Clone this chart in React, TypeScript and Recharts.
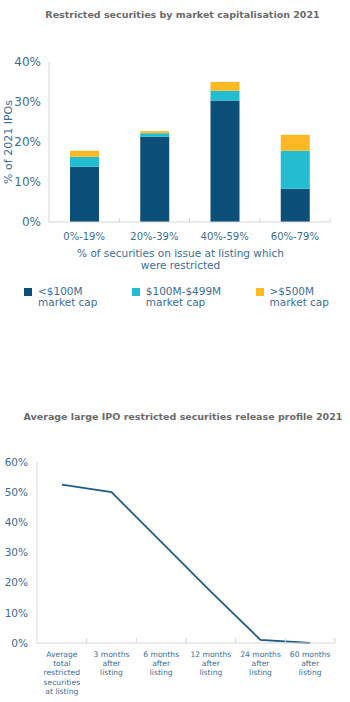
import React from 'react';
import { BarChart, Bar, XAxis, YAxis, Legend, LineChart, Line } from 'recharts';

// ---------- Data: chart 1 ----------
const capCategories = ['0%-19%', '20%-39%', '40%-59%', '60%-79%'];
const under100M = [13.8, 21.3, 30.4, 8.3];
const mid100to499M = [2.5, 0.9, 2.4, 9.5];
const over500M = [1.5, 0.5, 2.2, 4.0];
const capTicks = [0, 10, 20, 30, 40];
const seriesKeys = ['a', 'b', 'c'];
const seriesNames = ['<$100M\nmarket cap', '$100M-$499M\nmarket cap', '>$500M\nmarket cap'];

// ---------- Data: chart 2 ----------
const releaseCategories = [
  'Average total restricted securities at listing',
  '3 months after listing',
  '6 months after listing',
  '12 months after listing',
  '24 months after listing',
  '60 months after listing',
];
const releaseTickLines = [
  ['Average', 'total', 'restricted', 'securities', 'at listing'],
  ['3 months', 'after', 'listing'],
  ['6 months', 'after', 'listing'],
  ['12 months', 'after', 'listing'],
  ['24 months', 'after', 'listing'],
  ['60 months', 'after', 'listing'],
];
const releaseValues = [52.5, 50, 33.5, 17, 1, 0];
const releaseTicks = [0, 10, 20, 30, 40, 50, 60];

const capData = capCategories.map((c, i) => ({
  cat: c,
  a: under100M[i],
  b: mid100to499M[i],
  c: over500M[i],
}));
const releaseData = releaseCategories.map((c, i) => ({ cat: c, v: releaseValues[i] }));

// ---------- Styles ----------
const FONT = 'DejaVu Sans';
const AXIS_TEXT = '#3a6d94';
const AXIS_LINE = '#d6d6d6';
const TITLE = '#6a6a6a';
const COLORS = ['#0c4f78', '#22bdd0', '#fdb823'];
const LINE_COLOR = '#1f5e80';

// chart 1 layout
const C1_W = 350;
const C1_H = 320;
const C1_M = { top: 62, right: 20, left: 0, bottom: 38 };
const C1_YW = 49;
const C1_PLOT_W = C1_W - C1_M.left - C1_M.right - C1_YW;
const C1_BAND = C1_PLOT_W / capCategories.length;

// chart 2 layout
const C2_W = 350;
const C2_H = 272;
const C2_M = { top: 32, right: 15, left: 0, bottom: 4 };
const C2_YW = 37;
const C2_PLOT_W = C2_W - C2_M.left - C2_M.right - C2_YW;
const C2_PAD = C2_PLOT_W / (2 * releaseCategories.length);
const C2_STEP = 2 * C2_PAD;

const pct = (v: number) => `${v}%`;

function CapTick(props: any) {
  const { x, y, payload } = props;
  const bx = x + C1_BAND / 2;
  return (
    <g>
      <line x1={bx} x2={bx} y1={y} y2={y - 4} stroke={AXIS_LINE} />
      <text x={x} y={y + 14} dy="0.35em" textAnchor="middle" fill={AXIS_TEXT} fontSize={10} fontFamily={FONT}>
        {payload.value}
      </text>
    </g>
  );
}

function ReleaseTick(props: any) {
  const { x, y, index } = props;
  const lines = releaseTickLines[index] || [];
  const bx = x + C2_STEP / 2;
  return (
    <g>
      <line x1={bx} x2={bx} y1={y} y2={y - 5} stroke={AXIS_LINE} />
      <text textAnchor="middle" fill={AXIS_TEXT} fontSize={7.6} fontFamily={FONT}>
        {lines.map((l: string, i: number) => (
          <tspan key={i} x={x} y={y + 11 + i * 9.3} dy="0.35em">
            {l}
          </tspan>
        ))}
      </text>
    </g>
  );
}

function CapLegend(props: any) {
  const items = [...(props.payload || [])].sort(
    (p: any, q: any) => seriesKeys.indexOf(p.dataKey) - seriesKeys.indexOf(q.dataKey)
  );
  return (
    <div style={{ display: 'flex', justifyContent: 'space-between', width: '100%' }}>
      {items.map((p: any, i: number) => (
        <div key={i} style={{ display: 'flex', alignItems: 'flex-start' }}>
          <div style={{ width: 8, height: 8, background: p.color, marginTop: 1.5, marginRight: 6 }} />
          <div
            style={{
              whiteSpace: 'pre-line',
              fontFamily: FONT,
              fontSize: 10.5,
              lineHeight: '11px',
              color: AXIS_TEXT,
            }}
          >
            {p.value}
          </div>
        </div>
      ))}
    </div>
  );
}

export default function App() {
  return (
    <div
      style={{
        position: 'absolute',
        left: 0,
        top: 0,
        width: 350,
        height: 702,
        background: '#fff',
        fontFamily: FONT,
      }}
    >
      <div
        style={{
          position: 'absolute',
          top: 9,
          left: 0,
          width: 365,
          textAlign: 'center',
          fontWeight: 'bold',
          fontSize: 9.5,
          lineHeight: '12px',
          color: TITLE,
          whiteSpace: 'nowrap',
        }}
      >
        Restricted securities by market capitalisation 2021
      </div>
      <div style={{ position: 'absolute', left: 0, top: 0 }}>
        <BarChart width={C1_W} height={C1_H} data={capData} margin={C1_M} barSize={29}>
          <XAxis
            dataKey="cat"
            height={60}
            tickLine={false}
            tickSize={0}
            tickMargin={0}
            stroke={AXIS_LINE}
            tick={<CapTick />}
            interval={0}
            label={{
              content: (lp: any) => {
                const vb = lp.viewBox || {};
                const cx = vb.x + vb.width / 2 - 9;
                return (
                  <text textAnchor="middle" fill={AXIS_TEXT} fontSize={10.5} fontFamily={FONT}>
                    <tspan x={cx} y={vb.y + 31} dy="0.35em">
                      % of securities on issue at listing which
                    </tspan>
                    <tspan x={cx} y={vb.y + 43} dy="0.35em">
                      were restricted
                    </tspan>
                  </text>
                );
              },
            }}
          />
          <YAxis
            width={C1_YW}
            domain={[0, 40]}
            ticks={capTicks}
            tickFormatter={pct}
            tickLine={false}
            stroke={AXIS_LINE}
            tick={{ fill: AXIS_TEXT, fontSize: 12, fontFamily: FONT }}
            label={{
              content: (lp: any) => {
                const vb = lp.viewBox || {};
                const cy = vb.y + vb.height / 2;
                return (
                  <text
                    x={8}
                    y={cy}
                    dy="0.35em"
                    transform={`rotate(-90 8 ${cy})`}
                    textAnchor="middle"
                    fill={AXIS_TEXT}
                    fontSize={11}
                    fontFamily={FONT}
                  >
                    % of 2021 IPOs
                  </text>
                );
              },
            }}
          />
          <Legend
            layout="horizontal"
            verticalAlign="middle"
            align="center"
            content={<CapLegend />}
            wrapperStyle={{ top: 286, left: 24, width: 305, height: 24 }}
          />
          <Bar dataKey="a" name={seriesNames[0]} stackId="s" fill={COLORS[0]} isAnimationActive={false} />
          <Bar dataKey="b" name={seriesNames[1]} stackId="s" fill={COLORS[1]} isAnimationActive={false} />
          <Bar dataKey="c" name={seriesNames[2]} stackId="s" fill={COLORS[2]} isAnimationActive={false} />
        </BarChart>
      </div>

      <div
        style={{
          position: 'absolute',
          top: 411,
          left: 0,
          width: 366,
          textAlign: 'center',
          fontWeight: 'bold',
          fontSize: 9.5,
          lineHeight: '12px',
          color: TITLE,
          whiteSpace: 'nowrap',
        }}
      >
        Average large IPO restricted securities release profile 2021
      </div>
      <div style={{ position: 'absolute', left: 0, top: 430 }}>
        <LineChart width={C2_W} height={C2_H} data={releaseData} margin={C2_M}>
          <XAxis
            dataKey="cat"
            height={55}
            padding={{ left: C2_PAD, right: C2_PAD }}
            tickLine={false}
            tickSize={0}
            tickMargin={0}
            stroke={AXIS_LINE}
            tick={<ReleaseTick />}
            interval={0}
          />
          <YAxis
            width={C2_YW}
            domain={[0, 60]}
            ticks={releaseTicks}
            tickFormatter={pct}
            tickLine={false}
            tickMargin={3}
            stroke={AXIS_LINE}
            tick={{ fill: AXIS_TEXT, fontSize: 10.5, fontFamily: FONT }}
          />
          <Line
            dataKey="v"
            stroke={LINE_COLOR}
            strokeWidth={1.8}
            dot={false}
            isAnimationActive={false}
          />
        </LineChart>
      </div>
    </div>
  );
}
